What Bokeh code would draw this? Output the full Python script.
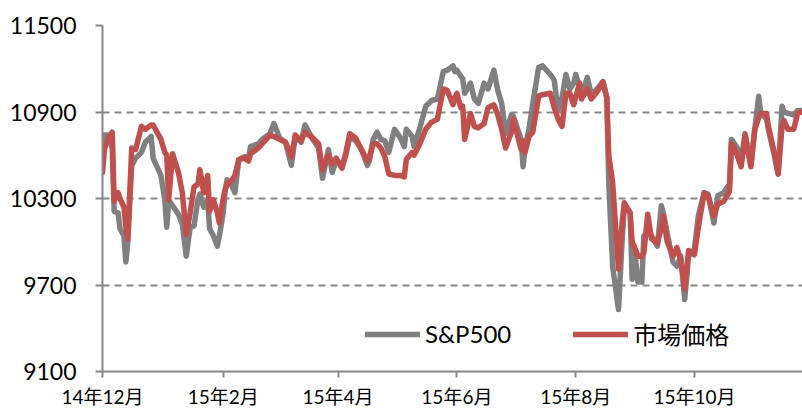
import pandas as pd
from bokeh.plotting import figure
from bokeh.models import FixedTicker, Legend, LegendItem, Range1d
from bokeh.embed import file_html
from bokeh.resources import INLINE

dates = [
    "2014-12-01", "2014-12-02", "2014-12-04", "2014-12-06", "2014-12-07", "2014-12-09",
    "2014-12-10", "2014-12-12", "2014-12-13", "2014-12-14", "2014-12-16", "2014-12-18",
    "2014-12-21", "2014-12-23", "2014-12-26", "2014-12-27", "2014-12-31", "2015-01-02",
    "2015-01-03", "2015-01-04", "2015-01-06", "2015-01-09", "2015-01-11", "2015-01-13",
    "2015-01-15", "2015-01-17", "2015-01-19", "2015-01-20", "2015-01-22", "2015-01-24",
    "2015-01-25", "2015-01-27", "2015-01-29", "2015-01-30", "2015-02-01", "2015-02-02",
    "2015-02-03", "2015-02-05", "2015-02-07", "2015-02-09", "2015-02-12", "2015-02-14",
    "2015-02-15", "2015-02-19", "2015-02-21", "2015-02-25", "2015-02-27", "2015-03-02",
    "2015-03-05", "2015-03-08", "2015-03-10", "2015-03-13", "2015-03-15", "2015-03-19",
    "2015-03-22", "2015-03-24", "2015-03-27", "2015-03-29", "2015-03-31", "2015-04-03",
    "2015-04-05", "2015-04-07", "2015-04-10", "2015-04-13", "2015-04-16", "2015-04-17",
    "2015-04-19", "2015-04-21", "2015-04-23", "2015-04-25", "2015-04-27", "2015-04-30",
    "2015-05-03", "2015-05-05", "2015-05-06", "2015-05-09", "2015-05-10", "2015-05-13",
    "2015-05-16", "2015-05-19", "2015-05-22", "2015-05-25", "2015-05-27", "2015-05-30",
    "2015-05-31", "2015-06-01", "2015-06-03", "2015-06-04", "2015-06-05", "2015-06-08",
    "2015-06-10", "2015-06-12", "2015-06-15", "2015-06-17", "2015-06-20", "2015-06-22",
    "2015-06-24", "2015-06-26", "2015-06-29", "2015-06-30", "2015-07-04", "2015-07-05",
    "2015-07-06", "2015-07-08", "2015-07-10", "2015-07-13", "2015-07-15", "2015-07-19",
    "2015-07-21", "2015-07-23", "2015-07-25", "2015-07-27", "2015-07-29", "2015-07-31",
    "2015-08-01", "2015-08-03", "2015-08-04", "2015-08-07", "2015-08-09", "2015-08-12",
    "2015-08-15", "2015-08-17", "2015-08-18", "2015-08-20", "2015-08-23", "2015-08-25",
    "2015-08-26", "2015-08-29", "2015-08-30", "2015-08-31", "2015-09-02", "2015-09-04",
    "2015-09-05", "2015-09-07", "2015-09-09", "2015-09-12", "2015-09-14", "2015-09-15",
    "2015-09-17", "2015-09-20", "2015-09-22", "2015-09-24", "2015-09-26", "2015-09-28",
    "2015-10-01", "2015-10-03", "2015-10-06", "2015-10-08", "2015-10-11", "2015-10-13",
    "2015-10-16", "2015-10-19", "2015-10-20", "2015-10-23", "2015-10-25", "2015-10-27",
    "2015-10-30", "2015-11-01", "2015-11-03", "2015-11-04", "2015-11-07", "2015-11-08",
    "2015-11-11", "2015-11-13", "2015-11-15", "2015-11-16", "2015-11-18", "2015-11-21",
    "2015-11-23", "2015-11-25",
]

sp500 = [
    10700, 10740, 10740, 10650, 10210, 10200,
    10090, 10040, 9860, 10000, 10530, 10580,
    10620, 10690, 10730, 10580, 10460, 10290,
    10100, 10290, 10250, 10190, 10120, 9900,
    10100, 10110, 10290, 10330, 10240, 10290,
    10090, 10040, 9970, 10040, 10200, 10360,
    10430, 10400, 10340, 10570, 10590, 10580,
    10660, 10680, 10710, 10750, 10820, 10720,
    10690, 10530, 10730, 10690, 10810, 10710,
    10650, 10440, 10640, 10480, 10570, 10520,
    10600, 10730, 10700, 10640, 10530, 10560,
    10710, 10760, 10710, 10700, 10620, 10780,
    10720, 10660, 10780, 10730, 10660, 10790,
    10940, 10980, 10990, 11180, 11190, 11220,
    11180, 11190, 11150, 11130, 11030, 11100,
    10990, 10960, 11100, 11060, 11190, 11050,
    10960, 10750, 10880, 10870, 10710, 10520,
    10650, 10780, 10960, 11210, 11220, 11160,
    11120, 10910, 11000, 11160, 11060, 11100,
    11160, 11080, 11020, 11140, 11020, 11060,
    11110, 11000, 10410, 9830, 9530, 10040,
    10250, 10200, 9740, 9970, 9720, 9720,
    10040, 10060, 10040, 9970, 10250, 10200,
    10060, 9860, 9830, 9900, 9600, 9900,
    9950, 10180, 10340, 10330, 10130, 10320,
    10340, 10400, 10710, 10650, 10550, 10750,
    10530, 10780, 11010, 10900, 10850, 10780,
    10600, 10470, 10940, 10900, 10890, 10880,
    10910, 10910,
]

market = [
    10480, 10640, 10720, 10760, 10280, 10340,
    10300, 10240, 10100, 10020, 10650, 10640,
    10800, 10780, 10810, 10810, 10710, 10620,
    10600, 10290, 10610, 10480, 10340, 10050,
    10200, 10380, 10400, 10500, 10340, 10460,
    10210, 10290, 10200, 10130, 10300, 10360,
    10400, 10420, 10460, 10570, 10580, 10560,
    10610, 10650, 10680, 10740, 10730, 10710,
    10690, 10590, 10740, 10700, 10760, 10720,
    10680, 10500, 10600, 10540, 10580, 10510,
    10620, 10750, 10720, 10640, 10560, 10580,
    10680, 10680, 10650, 10590, 10470, 10460,
    10460, 10450, 10570, 10620, 10600, 10680,
    10780, 10830, 10850, 11060, 11050, 10950,
    11000, 11030, 10930, 10940, 10710, 10890,
    10800, 10790, 10820, 10930, 10950, 10880,
    10780, 10650, 10760, 10850, 10640, 10700,
    10620, 10730, 10760, 11010, 11020, 11030,
    10930, 10850, 10800, 11030, 11030, 10950,
    11000, 11100, 10990, 11060, 10990, 11040,
    11110, 11000, 10600, 10410, 9810, 10150,
    10270, 10200, 10000, 9970, 9900, 9900,
    9920, 10190, 10020, 9990, 10100, 10180,
    10000, 9900, 9960, 9870, 9670, 9940,
    9910, 10100, 10340, 10320, 10180, 10260,
    10280, 10350, 10680, 10600, 10520, 10740,
    10520, 10780, 10860, 10890, 10890, 10800,
    10620, 10470, 10800, 10840, 10780, 10780,
    10890, 10900,
]

tick_months = ["2014-12-01", "2015-02-01", "2015-04-01", "2015-06-01", "2015-08-01", "2015-10-01"]
tick_labels = ["14年12月", "15年2月", "15年4月", "15年6月", "15年8月", "15年10月"]
y_ticks = [9100, 9700, 10300, 10900, 11500]
axis_end_date = "2015-11-25"

start = pd.Timestamp(tick_months[0])
x = [(pd.Timestamp(d) - start).days for d in dates]
x_ticks = [(pd.Timestamp(d) - start).days for d in tick_months]
x_end = (pd.Timestamp(axis_end_date) - start).days + 0.5

FONT = "Lato, Noto Sans CJK JP"
AXIS_GRAY = "#878787"

p = figure(width=802, height=410, output_backend="svg", toolbar_location=None,
           x_range=Range1d(0, x_end), y_range=Range1d(y_ticks[0], y_ticks[-1]),
           min_border_left=102, min_border_right=0, min_border_top=25, min_border_bottom=37)
p.outline_line_color = None
p.background_fill_color = "white"
p.border_fill_color = "white"

r1 = p.line(x, sp500, line_color="#808080", line_width=5.5, line_join="round", line_cap="round")
r2 = p.line(x, market, line_color="#c0504d", line_width=5.5, line_join="round", line_cap="round")

p.xaxis.ticker = FixedTicker(ticks=x_ticks)
p.xaxis.major_label_overrides = {t: lab for t, lab in zip(x_ticks, tick_labels)}
p.yaxis.ticker = FixedTicker(ticks=y_ticks)

for ax in (p.xaxis[0], p.yaxis[0]):
    ax.axis_line_color = AXIS_GRAY
    ax.axis_line_width = 2
    ax.major_tick_line_color = AXIS_GRAY
    ax.major_tick_line_width = 2
    ax.major_tick_in = 0
    ax.minor_tick_line_color = None
    ax.major_label_text_font = FONT
    ax.major_label_text_color = "black"

p.yaxis.major_tick_out = 7
p.yaxis.major_label_text_font_size = "23px"
p.yaxis.major_label_standoff = 19
p.xaxis.major_tick_out = 6
p.xaxis.major_label_text_font_size = "19px"
p.xaxis.major_label_standoff = 7

p.xgrid.grid_line_color = None
p.ygrid.ticker = FixedTicker(ticks=y_ticks)
p.ygrid.grid_line_color = AXIS_GRAY
p.ygrid.grid_line_width = 2
p.ygrid.grid_line_dash = "7 5"

legend = Legend(items=[LegendItem(label="S&P500", renderers=[r1]),
                       LegendItem(label="市場価格", renderers=[r2])],
                orientation="horizontal", location=(263, 20),
                glyph_width=55, glyph_height=24, label_standoff=5, spacing=62,
                padding=0, margin=0, border_line_alpha=0, background_fill_alpha=0,
                label_text_font=FONT, label_text_font_size="24px", label_text_color="black")
p.add_layout(legend)

open("out.html", "w").write(file_html(p, INLINE))
